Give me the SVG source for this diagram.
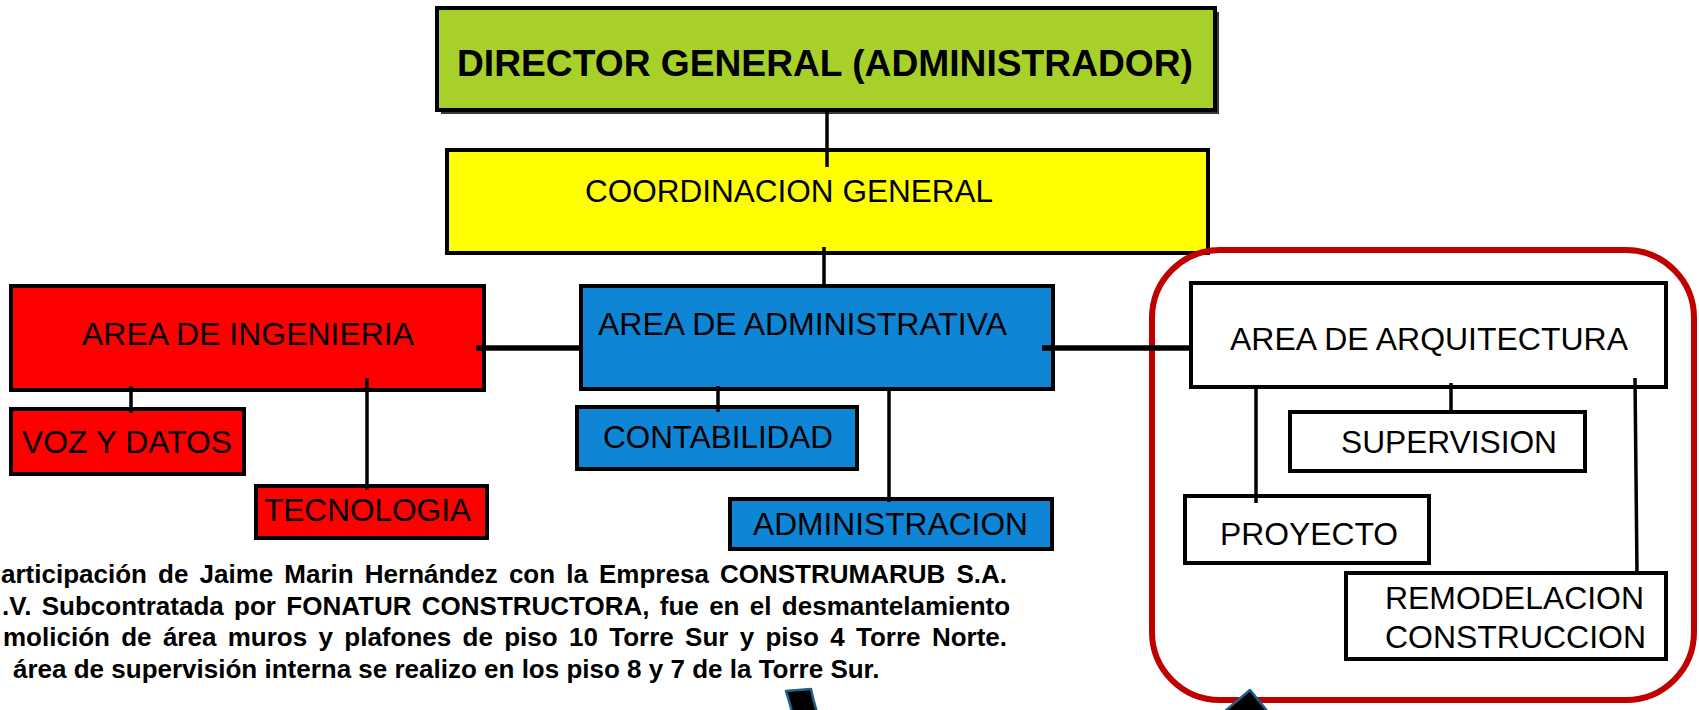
<svg xmlns="http://www.w3.org/2000/svg" width="1699" height="710" viewBox="0 0 1699 710">
<style>
.box{stroke:#000;stroke-width:4}
.t{font-family:"Liberation Sans",Arial,sans-serif;font-size:31px;fill:#000}
.tb{font-family:"Liberation Sans",Arial,sans-serif;font-weight:bold;fill:#000}
.v{stroke:#000;stroke-width:3.5;fill:none}
.h{stroke:#000;stroke-width:5.5;fill:none}
.para{font-family:"Liberation Sans",Arial,sans-serif;font-weight:bold;font-size:26px;fill:#000}
.arr{fill:#000;stroke:#1F5F8B;stroke-width:2.5;stroke-linejoin:round}
</style>
<rect width="1699" height="710" fill="#fff"/>

<g id="director">
  <rect x="441" y="12" width="778" height="102" fill="#3a3a3a"/>
  <rect x="437" y="8" width="778" height="102" fill="#A8D02A" class="box" stroke-width="3.5"/>
  <text class="tb" x="457" y="76" font-size="37" textLength="736" lengthAdjust="spacingAndGlyphs">DIRECTOR GENERAL (ADMINISTRADOR)</text>
</g>

<g id="coordinacion">
  <rect x="447" y="150" width="761" height="103" fill="#FFFF00" class="box"/>
  <text class="t" x="585" y="202" font-size="32" textLength="408" lengthAdjust="spacingAndGlyphs">COORDINACION GENERAL</text>
</g>

<g id="ingenieria">
  <rect x="11" y="286" width="473" height="104" fill="#FF0000" class="box"/>
  <text class="t" x="82" y="345" textLength="332" lengthAdjust="spacingAndGlyphs">AREA DE INGENIERIA</text>
</g>

<g id="vozdatos">
  <rect x="11" y="409" width="233" height="65" fill="#FF0000" class="box"/>
  <text class="t" x="22" y="453" textLength="210" lengthAdjust="spacingAndGlyphs">VOZ Y DATOS</text>
</g>

<g id="tecnologia">
  <rect x="256" y="486" width="231" height="52" fill="#FF0000" class="box"/>
  <text class="t" x="264" y="521" textLength="207" lengthAdjust="spacingAndGlyphs">TECNOLOGIA</text>
</g>

<g id="administrativa">
  <rect x="581" y="286" width="472" height="103" fill="#0F85D5" class="box"/>
  <text class="t" x="598" y="335" textLength="409" lengthAdjust="spacingAndGlyphs">AREA DE ADMINISTRATIVA</text>
</g>

<g id="contabilidad">
  <rect x="577" y="407" width="280" height="62" fill="#0F85D5" class="box"/>
  <text class="t" x="603" y="448" textLength="230" lengthAdjust="spacingAndGlyphs">CONTABILIDAD</text>
</g>

<g id="administracion">
  <rect x="730" y="499" width="322" height="50" fill="#0F85D5" class="box"/>
  <text class="t" x="753" y="535" textLength="275" lengthAdjust="spacingAndGlyphs">ADMINISTRACION</text>
</g>

<g id="grupo-arquitectura">
  <rect x="1152" y="250" width="542" height="450" rx="68" ry="68" fill="none" stroke="#C00000" stroke-width="6"/>
</g>

<g id="arquitectura">
  <rect x="1191" y="283" width="475" height="104" fill="#fff" class="box"/>
  <text class="t" x="1230" y="350" textLength="398" lengthAdjust="spacingAndGlyphs">AREA DE ARQUITECTURA</text>
</g>

<g id="supervision">
  <rect x="1290" y="412" width="295" height="59" fill="#fff" class="box"/>
  <text class="t" x="1341" y="453" textLength="216" lengthAdjust="spacingAndGlyphs">SUPERVISION</text>
</g>

<g id="proyecto">
  <rect x="1185" y="496" width="244" height="67" fill="#fff" class="box"/>
  <text class="t" x="1220" y="545" textLength="178" lengthAdjust="spacingAndGlyphs">PROYECTO</text>
</g>

<g id="remodelacion">
  <rect x="1346" y="573" width="320" height="86" fill="#fff" class="box"/>
  <text class="t" x="1385" y="609" textLength="259" lengthAdjust="spacingAndGlyphs">REMODELACION</text>
  <text class="t" x="1385" y="648" textLength="261" lengthAdjust="spacingAndGlyphs">CONSTRUCCION</text>
</g>

<g id="connectors">
  <line class="v" x1="827" y1="110" x2="827" y2="167"/>
  <line class="v" x1="824" y1="247" x2="824" y2="286"/>
  <line class="h" x1="476" y1="348" x2="581" y2="348"/>
  <line class="h" x1="1042" y1="348" x2="1191" y2="348"/>
  <line class="v" x1="131" y1="386" x2="131" y2="413"/>
  <line class="v" x1="367" y1="378" x2="367" y2="490"/>
  <line class="v" x1="718" y1="386" x2="718" y2="412"/>
  <line class="v" x1="889" y1="389" x2="889" y2="502"/>
  <line class="v" x1="1451" y1="383" x2="1451" y2="412"/>
  <line class="v" x1="1256" y1="387" x2="1256" y2="503"/>
  <line class="v" x1="1635" y1="378" x2="1637" y2="573"/>
</g>

<g id="nota">
  <text class="para" x="1" y="583" word-spacing="3.9">articipación de Jaime Marin Hernández con la Empresa CONSTRUMARUB S.A.</text>
  <text class="para" x="2" y="614.5" word-spacing="3.1">.V. Subcontratada por FONATUR CONSTRUCTORA, fue en el desmantelamiento</text>
  <text class="para" x="3" y="646" word-spacing="4.1">molición de área muros y plafones de piso 10 Torre Sur y piso 4 Torre Norte.</text>
  <text class="para" x="13" y="677.5">área de supervisión interna se realizo en los piso 8 y 7 de la Torre Sur.</text>
</g>

<g id="flechas">
  <path class="arr" d="M786,691 L811,689 Q813,700 817,712 L792,712 Q789,700 786,691 Z"/>
  <path class="arr" d="M1250,690 L1224,712 L1268,712 Z"/>
</g>
</svg>
